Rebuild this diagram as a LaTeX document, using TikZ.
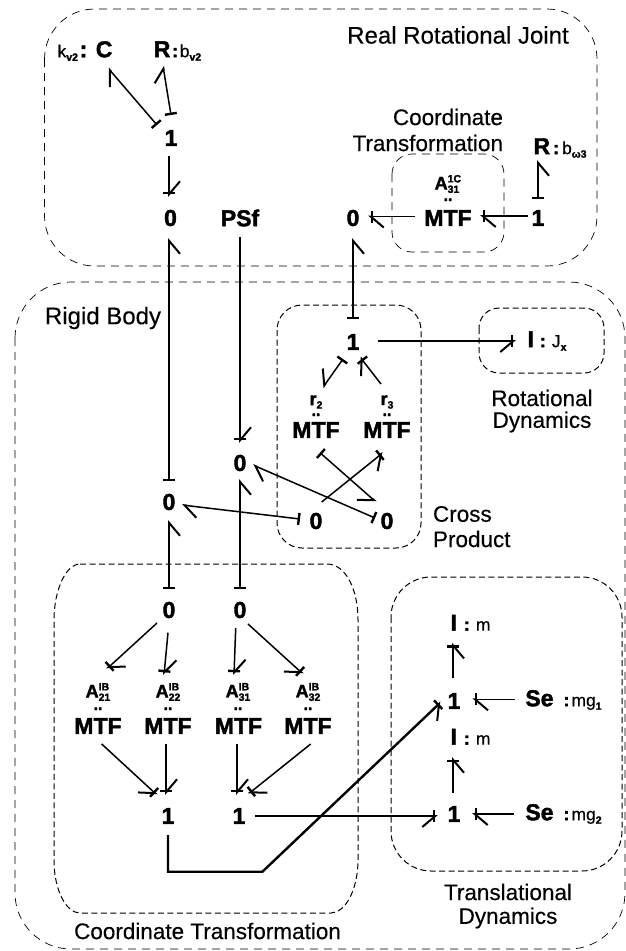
\documentclass[tikz,border=0pt]{standalone}
\usepackage{fontspec}
\setmainfont{Liberation Sans}[FakeBold=0.3,BoldFeatures={FakeBold=1.8}]
\usetikzlibrary{arrows.meta}
\newcommand\bigb[1]{{\fontsize{23}{23}\selectfont\bfseries #1}}
\newcommand\smallab[1]{{\fontsize{18}{18}\selectfont\bfseries #1}}
\newcommand\tinyd{{\fontsize{16}{16}\selectfont\bfseries ..}}
\newcommand\regt[1]{{\fontsize{17.5}{17.5}\selectfont #1}}
\newcommand\lowt[1]{\raisebox{-3.5pt}{\fontsize{10.5}{10.5}\selectfont #1}}
\newcommand\hit[1]{\raisebox{7pt}{\fontsize{10.5}{10.5}\selectfont #1}}
\newcommand\matr[3]{\smallab{A}\rlap{\bfseries\hit{#1}}{\bfseries\lowt{#2}}}
\newcommand\bnd[5]{\draw[#1] ([shift={(#3)}]#2.center) -- ([shift={(#5)}]#4.center);}
\tikzset{
  x=1pt,y=-1pt,
  thinbox/.style={draw=black,line width=0.7pt,dash pattern=on 8pt off 6pt},
  medbox/.style={draw=black,line width=1pt,dash pattern=on 6pt off 3.5pt},
  el/.style={inner sep=0pt,outer sep=0pt,text=black},
  dotsn/.style={inner sep=0pt,outer sep=0pt,anchor=base},
  captext/.style={inner sep=0pt,outer sep=0pt,font=\fontsize{22.5}{22.5}\selectfont},
  bond/.style={line width=1.5pt,black},
  BarbL/.tip={Straight Barb[left,length=13pt,width=22pt,line width=2pt]},
  BarbR/.tip={Straight Barb[right,length=13pt,width=22pt,line width=2pt]},
  Stk/.tip={Bar[width=12pt,line width=2.4pt]},
  StkL/.tip={Stk[sep=-14pt] BarbL},
  StkR/.tip={Stk[sep=-14pt] BarbR},
}
\begin{document}
\begin{tikzpicture}
\useasboundingbox (0,0) rectangle (626,951);
% group boxes
\draw[thinbox,rounded corners=50pt] (44.5,9) rectangle (597,266);
\draw[thinbox,rounded corners=56pt] (15,282) rectangle (625,949);
\draw[thinbox,rounded corners=20pt] (392,154) rectangle (504,252);
\draw[medbox,rounded corners=25pt] (277,305) rectangle (421,548);
\draw[medbox,rounded corners=20pt] (479,308) rectangle (604,373);
\draw[medbox,rounded corners=40pt] (391,577) rectangle (622,871);
\draw[medbox] (80,564) -- (327,564) .. controls (345,564) and (358,588) .. (358,620) -- (358,860) .. controls (358,890) and (345,913) .. (331,913) -- (80,913) .. controls (66,913) and (54,890) .. (54,860) -- (54,620) .. controls (54,590) and (66,564) .. (80,564) -- cycle;
% captions
\node[captext,font=\fontsize{24}{24}\selectfont] (capA) at (458,35) {Real Rotational Joint};
\node[captext,anchor=east] (capB) at (503,117) {Coordinate};
\node[captext,anchor=east] (capC) at (503,143) {Transformation};
\node[captext,anchor=west,font=\fontsize{24}{24}\selectfont] (capD) at (45,318) {Rigid Body};
\node[captext,anchor=west] (capE) at (433,514) {Cross};
\node[captext,anchor=west] (capF) at (433,539) {Product};
\node[captext] (capG) at (542,398) {Rotational};
\node[captext] (capH) at (542,422) {Dynamics};
\node[captext] (capI) at (207.5,931) {Coordinate Transformation};
\node[captext] (capJ) at (508,892) {Translational};
\node[captext] (capK) at (508,918) {Dynamics};
% elements
\node[el] (kC) at (85,51) {\regt{k}{\bfseries\lowt{v2}}\,\bigb{: C}};
\node[el] (Rv) at (177.5,51) {\bigb{R}\,\smallab{:}\,\regt{b}{\bfseries\lowt{v2}}};
\node[el] (u1) at (171,138) {\bigb{1}};
\node[el] (z1) at (170.5,218) {\bigb{0}};
\node[el] (PS) at (240,218) {\bigb{PSf}};
\node[el] (z0) at (353,218) {\bigb{0}};
\node[el] (mt) at (448,218) {\bigb{MTF}};
\node[el] (u2) at (538,218) {\bigb{1}};
\node[el] (R3) at (560,148) {\bigb{R}\hspace{3pt}\smallab{:}\hspace{3pt}\regt{b}{\bfseries\lowt{ω3}}};
\node[el] (lt) at (447,184) {\matr{1C}{31}{}};
\node[dotsn] (dt) at (448,201) {\tinyd};
\node[el] (u3) at (353,342) {\bigb{1}};
\node[el] (Ix) at (547,341) {\bigb{I}\hspace{6pt}\smallab{:}\hspace{6pt}\regt{J}{\bfseries\lowt{x}}};
\node[el] (lr2) at (316,402) {\smallab{r}{\bfseries\lowt{2}}};
\node[el] (lr3) at (387,402) {\smallab{r}{\bfseries\lowt{3}}};
\node[dotsn] (dr2) at (316,416) {\tinyd};
\node[dotsn] (dr3) at (387,416) {\tinyd};
\node[el] (mr2) at (316,430) {\bigb{MTF}};
\node[el] (mr3) at (387,430) {\bigb{MTF}};
\node[el] (z2) at (240,463) {\bigb{0}};
\node[el] (z3) at (169,502) {\bigb{0}};
\node[el] (z4) at (316,521) {\bigb{0}};
\node[el] (z5) at (387,521) {\bigb{0}};
\node[el] (z6) at (169,610) {\bigb{0}};
\node[el] (z7) at (240,610) {\bigb{0}};
\node[el] (la) at (98,692) {\matr{IB}{21}{}};
\node[el] (lb) at (168,692) {\matr{IB}{22}{}};
\node[el] (lc) at (238,692) {\matr{IB}{31}{}};
\node[el] (ld) at (308,692) {\matr{IB}{32}{}};
\node[dotsn] (da) at (98,710) {\tinyd};
\node[dotsn] (db) at (168,710) {\tinyd};
\node[dotsn] (dc) at (238,710) {\tinyd};
\node[dotsn] (dd) at (308,710) {\tinyd};
\node[el] (ma) at (98,726) {\bigb{MTF}};
\node[el] (mb) at (168,726) {\bigb{MTF}};
\node[el] (mc) at (238.5,726) {\bigb{MTF}};
\node[el] (md) at (308,726) {\bigb{MTF}};
\node[el] (v1) at (168,816) {\bigb{1}};
\node[el] (v2) at (239,816) {\bigb{1}};
\node[el] (v3) at (454,701) {\bigb{1}};
\node[el] (v4) at (454,814) {\bigb{1}};
\node[el] (I1) at (470.5,622.7) {\bigb{I}\hspace{7pt}\smallab{:}\hspace{6pt}\regt{m}};
\node[el] (I2) at (470.5,736.7) {\bigb{I}\hspace{7pt}\smallab{:}\hspace{6pt}\regt{m}};
\node[el] (S1) at (563.5,700) {\bigb{Se}\hspace{10pt}\smallab{:}\hspace{2pt}\regt{mg}{\bfseries\lowt{1}}};
\node[el] (S2) at (563.5,814) {\bigb{Se}\hspace{10pt}\smallab{:}\hspace{2pt}\regt{mg}{\bfseries\lowt{2}}};
\coordinate (c1) at (168,871.7);
\coordinate (c2) at (262.4,871.7);
% bonds
\bnd{bond,arrows={Stk-BarbL}}{u1}{-14,-13}{kC}{23,17}
\bnd{bond,arrows={Stk-BarbL}}{u1}{0,-23}{Rv}{-14.5,15}
\bnd{bond,arrows={-StkL}}{u1}{-2,18}{z1}{-1.5,-21}
\bnd{bond,arrows={Stk-BarbR}}{z3}{0,-21}{z1}{-1.5,20}
\bnd{bond,arrows={-StkL}}{PS}{0,19}{z2}{0,-20}
\bnd{bond,arrows={-StkL}}{mt}{-33,-1.5}{z0}{15,-1.5}
\bnd{bond,arrows={-StkL}}{u2}{-10,-2}{mt}{32,-2}
\bnd{bond,arrows={Stk-BarbR}}{u2}{0,-19}{R3}{-22,12}
\bnd{bond,arrows={Stk-BarbR}}{u3}{0,-23}{z0}{0,20}
\bnd{bond,arrows={-StkR}}{u3}{25,-1}{Ix}{-31,0}
\bnd{bond,arrows={Stk-BarbR}}{u3}{-10,17}{lr2}{6.7,-14.3}
\bnd{bond,arrows={-StkL}}{lr3}{-6,-18}{u3}{7,15}
\bnd{bond,arrows={Stk-BarbR}}{mr2}{4,22.7}{z5}{-11,-19}
\bnd{bond,arrows={-StkR}}{z4}{5.7,-19}{mr3}{-4,22.7}
\bnd{bond,arrows={Stk-BarbL}}{z4}{-16,-2}{z3}{13,3}
\bnd{bond,arrows={Stk-BarbL}}{z5}{-12,-3}{z2}{13,2}
\bnd{bond,arrows={Stk-BarbR}}{z6}{0,-21}{z3}{0,18}
\bnd{bond,arrows={Stk-BarbR}}{z7}{0,-21}{z2}{0,16}
\bnd{bond,arrows={-StkL}}{z6}{-12,13}{la}{8.7,-23}
\bnd{bond,arrows={-StkL}}{z6}{-1,22.7}{lb}{-4,-17}
\bnd{bond,arrows={-StkL}}{z7}{-4.3,18}{lc}{-4,-17}
\bnd{bond,arrows={-StkR}}{z7}{8,14}{ld}{-5,-18}
\bnd{bond,arrows={-StkR}}{ma}{3.7,18}{v1}{-11,-21}
\bnd{bond,arrows={-StkL}}{mb}{-2,18}{v1}{-2,-21}
\bnd{bond,arrows={-StkL}}{mc}{-1.5,18}{v2}{-2,-21}
\bnd{bond,arrows={-StkL}}{md}{2.7,18}{v2}{9.3,-22}
\draw[bond,line width=2.4pt,arrows={-StkR}] ([shift={(0,19)}]v1.center) -- (c1) -- (c2) -- ([shift={(-13,1)}]v3.center);
\bnd{bond,arrows={-StkR}}{v2}{16,0}{v4}{-16,2}
\bnd{bond,arrows={-StkR}}{v3}{-1,-23}{I1}{-17.5,20}
\bnd{bond,arrows={-StkL}}{S1}{-48.5,-0.7}{v3}{18.3,-1.7}
\bnd{bond,arrows={-StkR}}{v4}{-1,-21.3}{I2}{-17.5,20.3}
\bnd{bond,arrows={-StkL}}{S2}{-49.5,0}{v4}{18,0}
\end{tikzpicture}
\end{document}
